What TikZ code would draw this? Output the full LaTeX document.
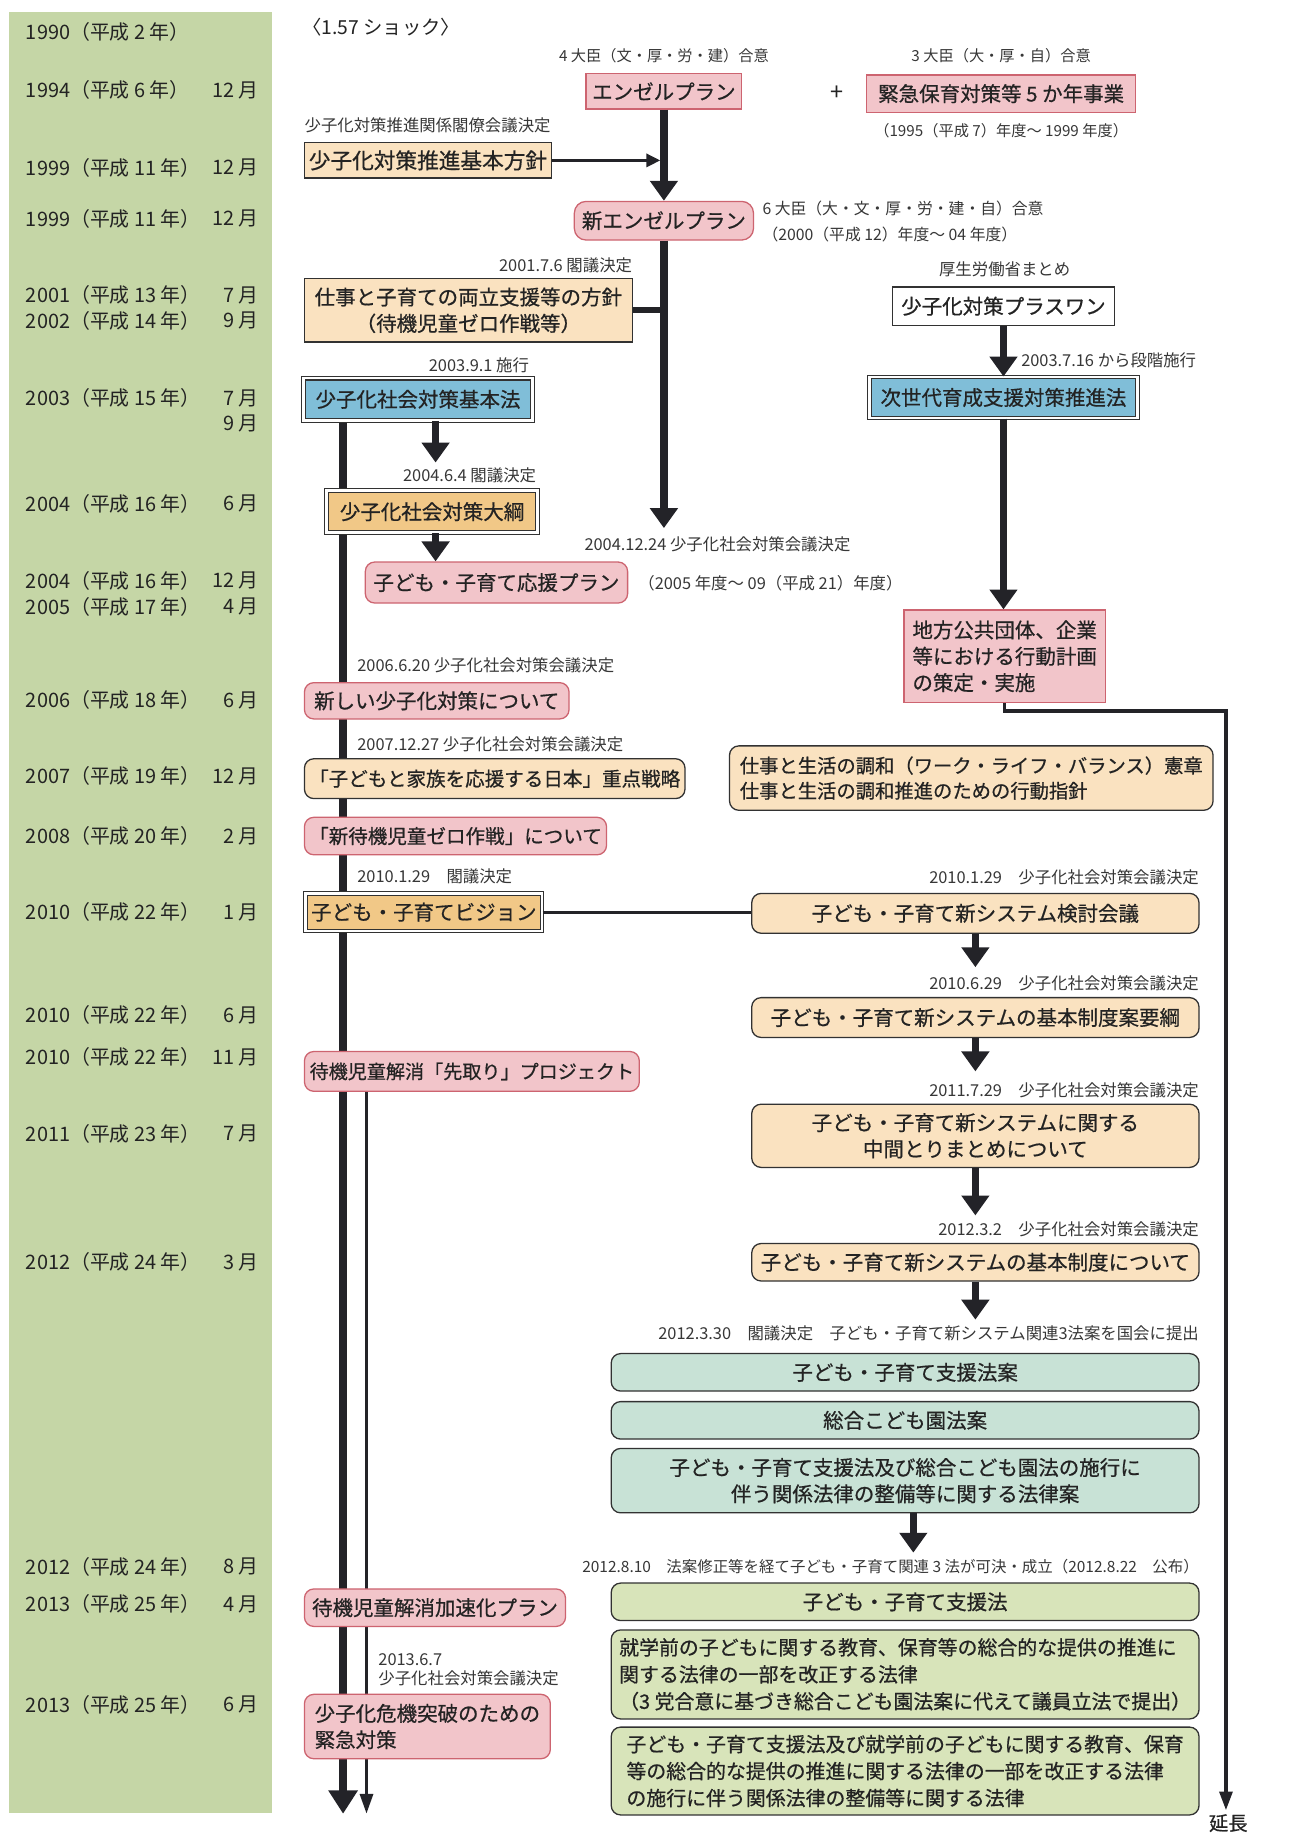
\documentclass[tikz,border=0pt]{standalone}
\usepackage{fontspec}
\setmainfont{Noto Sans CJK JP}
\newfontfamily\boxfont{Noto Sans CJK JP}[FakeBold=0.6]
\usetikzlibrary{arrows.meta}
\definecolor{txt}{RGB}{35,35,35}
\definecolor{lbltxt}{RGB}{55,55,55}
\definecolor{linecol}{RGB}{35,35,40}
\definecolor{boxline}{RGB}{50,50,50}
\definecolor{greencol}{RGB}{197,214,166}
\definecolor{pinkfill}{RGB}{242,197,202}
\definecolor{pinkline}{RGB}{205,100,112}
\definecolor{tanfill}{RGB}{250,226,192}
\definecolor{orangefill}{RGB}{241,200,135}
\definecolor{bluefill}{RGB}{128,190,216}
\definecolor{tealfill}{RGB}{200,226,214}
\definecolor{olivefill}{RGB}{216,228,186}
\pgfdeclarelayer{bg}
\pgfsetlayers{bg,main}
\newcommand\bx[2]{\fontsize{#1}{#2}\selectfont\boxfont}
\begin{document}
\begin{tikzpicture}[x=1pt,y=-1pt,
  every node/.style={text=txt},
  lbl/.style={font=\fontsize{14}{16}\selectfont, inner sep=0pt, text=lbltxt},
  yr/.style={font=\fontsize{17}{18}\selectfont, inner sep=0pt, anchor=west},
  mo/.style={font=\fontsize{17}{18}\selectfont, inner sep=0pt, anchor=east},
  box/.style={inner sep=0pt, align=center, font=\bx{17.5}{22.5}, line width=1.1pt},
  pinksq/.style={box, fill=pinkfill, draw=pinkline},
  pinkrd/.style={pinksq, rounded corners=8pt},
  tansq/.style={box, fill=tanfill, draw=boxline},
  tanrd/.style={tansq, rounded corners=8pt},
  whitesq/.style={box, fill=white, draw=boxline},
  dbl/.style={box, draw=boxline, line width=0.9pt, double=white, double distance=2.2pt},
  bluedbl/.style={dbl, fill=bluefill},
  orangedbl/.style={dbl, fill=orangefill},
  tealrd/.style={box, fill=tealfill, draw=boxline, rounded corners=8pt},
  oliverd/.style={box, fill=olivefill, draw=boxline, rounded corners=8pt},
  bigarr/.style={draw=linecol, line width=6.5pt, -{Triangle[width=23pt,length=17pt]}},
  longarr/.style={draw=linecol, line width=6.5pt, -{Triangle[width=24pt,length=20pt]}},
  link/.style={draw=linecol, line width=5pt},
  thinlink/.style={draw=linecol, line width=2.5pt},
  medarr/.style={draw=linecol, line width=3pt, -{Triangle[width=11pt,length=12pt]}},
  thinarr/.style={draw=linecol, line width=3pt, -{Triangle[width=11pt,length=17pt]}},
  wsz/.style n args={2}{minimum width=#1, minimum height=#2}
]
\begin{pgfonlayer}{bg}
  \fill[white] (0,0) rectangle (1106,1568);
  \fill[greencol] (8,10) rectangle (232,1548);
\end{pgfonlayer}
\useasboundingbox (0,0) rectangle (1106,1568);

% ---- year column ----
\node[yr] (y1)  at (22,27)   {1990（平成 2 年）};
\node[yr] (y2)  at (22,77)   {1994（平成 6 年）};   \node[mo] (m2)  at (221,77)   {12 月};
\node[yr] (y3)  at (22,143)  {1999（平成 11 年）};  \node[mo] (m3)  at (221,143)  {12 月};
\node[yr] (y4)  at (22,187)  {1999（平成 11 年）};  \node[mo] (m4)  at (221,187)  {12 月};
\node[yr] (y5)  at (22,252)  {2001（平成 13 年）};  \node[mo] (m5)  at (221,252)  {7 月};
\node[yr] (y6)  at (22,274)  {2002（平成 14 年）};  \node[mo] (m6)  at (221,274)  {9 月};
\node[yr] (y7)  at (22,340)  {2003（平成 15 年）};  \node[mo] (m7)  at (221,340)  {7 月};
                                                  \node[mo] (m8)  at (221,362)  {9 月};
\node[yr] (y9)  at (22,430)  {2004（平成 16 年）};  \node[mo] (m9)  at (221,430)  {6 月};
\node[yr] (y10) at (22,496)  {2004（平成 16 年）};  \node[mo] (m10) at (221,496)  {12 月};
\node[yr] (y11) at (22,518)  {2005（平成 17 年）};  \node[mo] (m11) at (221,518)  {4 月};
\node[yr] (y12) at (22,598)  {2006（平成 18 年）};  \node[mo] (m12) at (221,598)  {6 月};
\node[yr] (y13) at (22,663)  {2007（平成 19 年）};  \node[mo] (m13) at (221,663)  {12 月};
\node[yr] (y14) at (22,714)  {2008（平成 20 年）};  \node[mo] (m14) at (221,714)  {2 月};
\node[yr] (y15) at (22,779)  {2010（平成 22 年）};  \node[mo] (m15) at (221,779)  {1 月};
\node[yr] (y16) at (22,867)  {2010（平成 22 年）};  \node[mo] (m16) at (221,867)  {6 月};
\node[yr] (y17) at (22,903)  {2010（平成 22 年）};  \node[mo] (m17) at (221,903)  {11 月};
\node[yr] (y18) at (22,968)  {2011（平成 23 年）};  \node[mo] (m18) at (221,968)  {7 月};
\node[yr] (y19) at (22,1078) {2012（平成 24 年）};  \node[mo] (m19) at (221,1078) {3 月};
\node[yr] (y20) at (22,1338) {2012（平成 24 年）};  \node[mo] (m20) at (221,1338) {8 月};
\node[yr] (y21) at (22,1370) {2013（平成 25 年）};  \node[mo] (m21) at (221,1370) {4 月};
\node[yr] (y22) at (22,1456) {2013（平成 25 年）};  \node[mo] (m22) at (221,1456) {6 月};

% ---- top section ----
\node[yr, font=\fontsize{16.5}{18}\selectfont] (shock) at (258,23) {〈1.57 ショック〉};
\node[lbl, font=\fontsize{13}{15}\selectfont] (l4) at (567,48) {4 大臣（文・厚・労・建）合意};
\node[pinksq, wsz={133}{30}] (angel) at (567,78) {エンゼルプラン};
\node[font=\fontsize{20}{20}\selectfont, inner sep=0pt] (plus) at (715,80) {+};
\node[lbl, font=\fontsize{13}{15}\selectfont] (l3) at (855,48) {3 大臣（大・厚・自）合意};
\node[pinksq, wsz={230}{32}] (kinkyu) at (855,80) {緊急保育対策等 5 か年事業};
\node[lbl, font=\fontsize{13}{15}\selectfont] (l1995) at (855,112) {（1995（平成 7）年度～ 1999 年度）};

\node[lbl, anchor=west] (lkakuryo) at (260,107) {少子化対策推進関係閣僚会議決定};
\node[tansq, wsz={211}{30}, font=\bx{18.5}{22}] (hoshin) at (365.5,137) {少子化対策推進基本方針};

\node[pinkrd, wsz={153}{33}, rounded corners=10pt] (newangel) at (567,188.5) {新エンゼルプラン};
\node[lbl, anchor=west, font=\fontsize{13.5}{15}\selectfont] (l6) at (651,178) {6 大臣（大・文・厚・労・建・自）合意};
\node[lbl, anchor=west, font=\fontsize{13.5}{15}\selectfont] (l2000) at (651,200) {（2000（平成 12）年度～ 04 年度）};

\node[lbl, anchor=east] (l2001) at (540,227) {2001.7.6 閣議決定};
\node[tansq, wsz={280}{54}] (ryoritsu) at (400,265) {仕事と子育ての両立支援等の方針\\（待機児童ゼロ作戦等）};

\node[lbl] (lmhlw) at (858,230) {厚生労働省まとめ};
\node[whitesq, wsz={190}{33}] (plusone) at (857,261.5) {少子化対策プラスワン};
\node[lbl, anchor=west] (l20037) at (872,308) {2003.7.16 から段階施行};
\node[bluedbl, wsz={229}{35}] (jisedai) at (857,339.5) {次世代育成支援対策推進法};

\node[lbl, anchor=east] (l2003) at (452,312) {2003.9.1 施行};
\node[bluedbl, wsz={196}{36}] (kihonho) at (357,341) {少子化社会対策基本法};
\node[lbl, anchor=east] (l2004) at (458,406) {2004.6.4 閣議決定};
\node[orangedbl, wsz={180}{36}] (taiko) at (369,437) {少子化社会対策大綱};
\node[lbl, anchor=west] (l200412) at (499,465) {2004.12.24 少子化社会対策会議決定};
\node[pinkrd, wsz={224}{35}] (ouen) at (424,497.5) {子ども・子育て応援プラン};
\node[lbl, anchor=west] (l2005) at (545,498) {（2005 年度～ 09（平成 21）年度）};

\node[pinksq, wsz={172}{79}, align=left] (chiho) at (858,560.5) {地方公共団体、企業\\等における行動計画\\の策定・実施};

% ---- middle section ----
\node[lbl, anchor=west] (l2006) at (305,568) {2006.6.20 少子化社会対策会議決定};
\node[pinkrd, wsz={226}{31}] (atarashii) at (373,598.5) {新しい少子化対策について};
\node[lbl, anchor=west] (l2007) at (305,636) {2007.12.27 少子化社会対策会議決定};
\node[tanrd, wsz={325}{34}, font=\bx{16.7}{20}] (juten) at (422.5,665) {「子どもと家族を応援する日本」重点戦略};
\node[tanrd, wsz={413}{55}, align=left, font=\bx{16.5}{21.5}] (wlb) at (829.5,664.5) {仕事と生活の調和（ワーク・ライフ・バランス）憲章\\仕事と生活の調和推進のための行動指針};
\node[pinkrd, wsz={258}{32}, font=\bx{16.7}{20}] (zero) at (389,714) {「新待機児童ゼロ作戦」について};

\node[lbl, anchor=west] (l2010a) at (305,748) {2010.1.29　閣議決定};
\node[orangedbl, wsz={202}{32}] (vision) at (362,779) {子ども・子育てビジョン};
\node[lbl, anchor=east] (l2010b) at (1024,749) {2010.1.29　少子化社会対策会議決定};
\node[tanrd, wsz={382}{34}] (kento) at (833,780) {子ども・子育て新システム検討会議};
\node[lbl, anchor=east] (l2010c) at (1024,840) {2010.6.29　少子化社会対策会議決定};
\node[tanrd, wsz={382}{34}] (yoko) at (833,869) {子ども・子育て新システムの基本制度案要綱};
\node[pinkrd, wsz={286}{34}, font=\bx{16.3}{20}] (sakidori) at (403,915) {待機児童解消「先取り」プロジェクト};
\node[lbl, anchor=east] (l2011) at (1024,931) {2011.7.29　少子化社会対策会議決定};
\node[tanrd, wsz={382}{54}] (chukan) at (833,970) {子ども・子育て新システムに関する\\中間とりまとめについて};
\node[lbl, anchor=east] (l2012a) at (1024,1050) {2012.3.2　少子化社会対策会議決定};
\node[tanrd, wsz={382}{32}] (kihonseido) at (833,1078) {子ども・子育て新システムの基本制度について};

% ---- bills and laws ----
\node[lbl, anchor=east] (l2012b) at (1024,1139) {2012.3.30　閣議決定　子ども・子育て新システム関連3法案を国会に提出};
\node[tealrd, wsz={502}{32}] (shienhoan) at (773,1172) {子ども・子育て支援法案};
\node[tealrd, wsz={502}{32}] (sogohoan) at (773,1213) {総合こども園法案};
\node[tealrd, wsz={502}{55}] (seibihoan) at (773,1264.5) {子ども・子育て支援法及び総合こども園法の施行に\\伴う関係法律の整備等に関する法律案};
\node[lbl, anchor=east, font=\fontsize{13.2}{15}\selectfont] (l2012c) at (1024,1338) {2012.8.10　法案修正等を経て子ども・子育て関連 3 法が可決・成立（2012.8.22　公布）};
\node[oliverd, wsz={502}{32}] (shienho) at (773,1368) {子ども・子育て支援法};
\node[oliverd, wsz={502}{76}, align=left, font=\bx{17}{23}] (shugaku) at (773,1430) {就学前の子どもに関する教育、保育等の総合的な提供の推進に\\関する法律の一部を改正する法律\\（3 党合意に基づき総合こども園法案に代えて議員立法で提出）};
\node[oliverd, wsz={502}{75}, align=left, font=\bx{17}{23}] (seibiho) at (773,1512.5) {子ども・子育て支援法及び就学前の子どもに関する教育、保育\\等の総合的な提供の推進に関する法律の一部を改正する法律\\の施行に伴う関係法律の整備等に関する法律};

\node[pinkrd, wsz={223}{32}] (kasoku) at (371.5,1373) {待機児童解消加速化プラン};
\node[lbl, anchor=west, align=left, font=\fontsize{14}{17}\selectfont] (l2013) at (323,1426) {2013.6.7\\少子化社会対策会議決定};
\node[pinkrd, wsz={210}{55}, align=left] (kiki) at (365,1474.5) {少子化危機突破のための\\緊急対策};

\node[font=\bx{16.5}{18}, inner sep=0pt] (enchou) at (1049,1557) {延長};

% ---- connector end points ----
\coordinate (tipA) at (567,451);
\coordinate (hoshinTip) at (564,137);
\coordinate (ax) at (372,395);
\coordinate (r1) at (833,826);
\coordinate (r2) at (833,915);
\coordinate (r3) at (833,1038);
\coordinate (r4) at (833,1127);
\coordinate (r5) at (780,1326);
\coordinate (bendR) at (1047,607);
\coordinate (endR) at (1047,1546);
\coordinate (endL) at (293,1549);
\coordinate (endT) at (313,1549);

% ---- connectors ----
\begin{pgfonlayer}{bg}
  \draw[longarr] (kihonho.south -| endL) -- (endL);
  \draw[thinarr] (sakidori.south -| endT) -- (endT);
\end{pgfonlayer}
\draw[bigarr] (angel.south) -- (newangel.north);
\draw[bigarr] (newangel.south) -- (tipA);
\draw[medarr] (hoshin.east) -- (hoshinTip);
\draw[link] (ryoritsu.east) -- (ryoritsu.east -| tipA);
\draw[bigarr] (plusone.south) -- (jisedai.north);
\draw[bigarr] (jisedai.south) -- (jisedai.south |- chiho.north);
\draw[thinlink, -{Triangle[width=11pt,length=16pt]}, line width=3pt] (chiho.south) -- (chiho.south |- bendR) -- (bendR) -- (endR);
\draw[bigarr] (kihonho.south -| ax) -- (ax);
\draw[bigarr] (taiko.south -| ax) -- (ax |- ouen.north);
\draw[thinlink] (vision.east) -- (vision.east -| kento.west);
\draw[bigarr] (kento.south) -- (r1);
\draw[bigarr] (yoko.south) -- (r2);
\draw[bigarr] (chukan.south) -- (r3);
\draw[bigarr] (kihonseido.south) -- (r4);
\draw[bigarr] (seibihoan.south -| r5) -- (r5);
\end{tikzpicture}
\end{document}
